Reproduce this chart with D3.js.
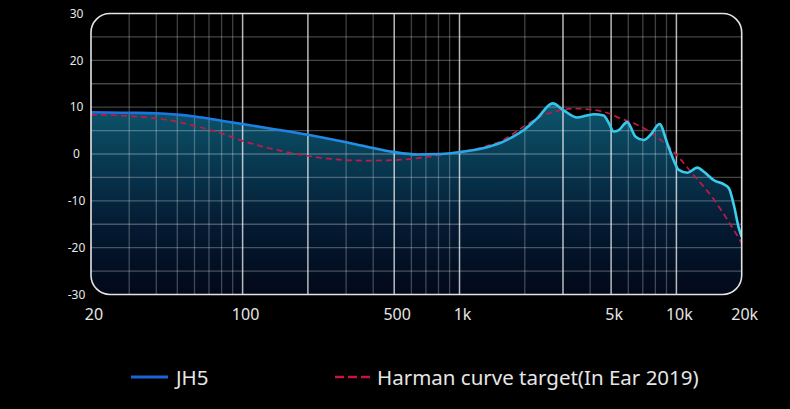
<!DOCTYPE html>
<html>
<head>
<meta charset="utf-8">
<script src="https://cdn.jsdelivr.net/npm/d3@7"></script>
<style>
body { margin: 0; background: #000; }
svg { display: block; }
text { font-family: "Noto Sans", sans-serif; fill: #e6e6e6; }
</style>
</head>
<body>
<div id="chart"></div>
<script>
var width = 790, height = 409;

// measured curve (JH5)
var jh5Freq = [20, 30, 40, 50, 60, 80, 100, 140, 200, 260, 370, 500, 640, 820, 1000, 1250, 1400, 1550, 1750, 2000, 2280, 2690, 3025, 3490, 4160, 4620, 4880, 5140, 5420, 5930, 6480, 7070, 7600, 8360, 9070, 9570, 10260, 11220, 12480, 13390, 14890, 16560, 17460, 18420, 19420, 20000];
var jh5Db   = [8.9, 8.8, 8.7, 8.4, 8.0, 7.1, 6.4, 5.3, 4.1, 3.1, 1.6, 0.4, -0.1, 0.0, 0.4, 1.1, 1.7, 2.4, 3.6, 5.3, 7.6, 10.8, 9.3, 7.8, 8.5, 8.2, 6.6, 4.8, 5.1, 6.8, 3.7, 3.0, 4.1, 6.4, 2.3, -0.6, -3.4, -4.0, -2.9, -3.8, -5.6, -6.5, -7.3, -11.0, -15.9, -17.7];

// target curve
var harmanFreq = [20, 30, 40, 50, 60, 80, 100, 140, 200, 260, 370, 500, 640, 820, 1000, 1250, 1400, 1550, 1750, 2000, 2360, 2820, 3365, 4016, 4790, 5520, 5930, 7330, 8450, 9070, 10200, 12000, 14500, 17160, 20000];
var harmanDb   = [8.4, 8.1, 7.6, 6.9, 6.0, 4.4, 2.8, 1.0, -0.4, -1.1, -1.4, -1.3, -0.9, -0.2, 0.4, 1.3, 2.0, 2.7, 4.2, 6.0, 8.0, 9.2, 9.7, 9.5, 8.8, 7.6, 7.1, 5.1, 3.0, 1.9, -0.6, -4.5, -9.0, -14.0, -19.0];

var xTicks = [20, 100, 500, 1000, 5000, 10000, 20000];
var xTickLabels = ['20', '100', '500', '1k', '5k', '10k', '20k'];
var yTicks = [30, 20, 10, 0, -10, -20, -30];
var majorGridFreq = [100, 200, 500, 1000, 3000, 5000, 10000];
var minorGridFreq = [30, 40, 50, 60, 70, 80, 90, 300, 400, 600, 700, 800, 900, 2000, 4000, 6000, 7000, 8000, 9000];
var hGridDb = [25, 20, 15, 10, 5, 0, -5, -10, -15, -20, -25];
var legendLabels = ['JH5', 'Harman curve target(In Ear 2019)'];

var svg = d3.select('#chart').append('svg').attr('width', width).attr('height', height);
svg.append('rect').attr('width', width).attr('height', height).attr('fill', '#000');

var x = d3.scaleLog().domain([20, 20000]).range([91, 741.7]);
var y = d3.scaleLinear().domain([-30, 30]).range([294.5, 13.5]);

var frame = { x: 91, y: 13.5, w: 650.7, h: 281, r: 19 };

var defs = svg.append('defs');
defs.append('clipPath').attr('id', 'plotClip').append('rect')
    .attr('x', frame.x).attr('y', frame.y).attr('width', frame.w).attr('height', frame.h).attr('rx', frame.r);

var fillGrad = defs.append('linearGradient').attr('id', 'fillGrad')
    .attr('gradientUnits', 'userSpaceOnUse').attr('x1', 0).attr('x2', 0).attr('y1', 100).attr('y2', 295);
fillGrad.append('stop').attr('offset', '0%').attr('stop-color', '#0d586f');
fillGrad.append('stop').attr('offset', '30%').attr('stop-color', '#083b53');
fillGrad.append('stop').attr('offset', '65%').attr('stop-color', '#041a32');
fillGrad.append('stop').attr('offset', '100%').attr('stop-color', '#020818');

var lineGrad = defs.append('linearGradient').attr('id', 'lineGrad')
    .attr('gradientUnits', 'userSpaceOnUse').attr('x1', 91).attr('x2', 741.7).attr('y1', 0).attr('y2', 0);
lineGrad.append('stop').attr('offset', '0%').attr('stop-color', '#1a6ee2');
lineGrad.append('stop').attr('offset', '35%').attr('stop-color', '#1f86e6');
lineGrad.append('stop').attr('offset', '57%').attr('stop-color', '#28a4e8');
lineGrad.append('stop').attr('offset', '70%').attr('stop-color', '#33c4ea');
lineGrad.append('stop').attr('offset', '100%').attr('stop-color', '#3ad0ee');

var plot = svg.append('g').attr('clip-path', 'url(#plotClip)');
plot.append('rect').attr('x', frame.x).attr('y', frame.y).attr('width', frame.w).attr('height', frame.h).attr('fill', '#000');

var jh5 = jh5Freq.map((f, i) => [f, jh5Db[i]]);
var harman = harmanFreq.map((f, i) => [f, harmanDb[i]]);

var curve = d3.curveMonotoneX;

var area = d3.area().x(d => x(d[0])).y0(y(-30)).y1(d => y(d[1])).curve(curve);
plot.append('path').datum(jh5).attr('d', area).attr('fill', 'url(#fillGrad)');

// grid
plot.selectAll('.hgrid').data(hGridDb).enter().append('line')
    .attr('x1', frame.x).attr('x2', frame.x + frame.w)
    .attr('y1', d => y(d)).attr('y2', d => y(d))
    .attr('stroke', 'rgba(255,255,255,0.27)').attr('stroke-width', 1.3);
plot.selectAll('.vminor').data(minorGridFreq).enter().append('line')
    .attr('x1', d => x(d)).attr('x2', d => x(d))
    .attr('y1', frame.y).attr('y2', frame.y + frame.h)
    .attr('stroke', 'rgba(255,255,255,0.25)').attr('stroke-width', 1.3);
plot.selectAll('.vmajor').data(majorGridFreq).enter().append('line')
    .attr('x1', d => x(d)).attr('x2', d => x(d))
    .attr('y1', frame.y).attr('y2', frame.y + frame.h)
    .attr('stroke', 'rgba(255,255,255,0.72)').attr('stroke-width', 1.5);

var line = d3.line().x(d => x(d[0])).y(d => y(d[1])).curve(curve);
plot.append('path').datum(harman).attr('d', line)
    .attr('fill', 'none').attr('stroke', '#c01a47').attr('stroke-width', 1.7).attr('stroke-dasharray', '6,4');
plot.append('path').datum(jh5).attr('d', line)
    .attr('fill', 'none').attr('stroke', 'url(#lineGrad)').attr('stroke-width', 2.6);

// frame
svg.append('rect').attr('x', frame.x).attr('y', frame.y).attr('width', frame.w).attr('height', frame.h).attr('rx', frame.r)
    .attr('fill', 'none').attr('stroke', '#e4e4e4').attr('stroke-width', 1.6);

// axes labels
svg.selectAll('.ylab').data(yTicks).enter().append('text')
    .attr('x', 76.5).attr('y', d => y(d)).attr('dy', '0.35em')
    .attr('text-anchor', 'middle').attr('font-size', 12).text(d => d);
svg.selectAll('.xlab').data(xTicks).enter().append('text')
    .attr('x', d => x(d) + 3).attr('y', 320)
    .attr('text-anchor', 'middle').attr('font-size', 16).text((d, i) => xTickLabels[i]);

// legend
var legend = svg.append('g');
legend.append('line').attr('x1', 131).attr('x2', 168).attr('y1', 377).attr('y2', 377)
    .attr('stroke', '#1a64d8').attr('stroke-width', 3);
legend.append('text').attr('x', 176).attr('y', 384.5).attr('font-size', 20.5).text(legendLabels[0]);
legend.append('line').attr('x1', 335).attr('x2', 373).attr('y1', 377).attr('y2', 377)
    .attr('stroke', '#c8143f').attr('stroke-width', 2.5).attr('stroke-dasharray', '9,4');
legend.append('text').attr('x', 377).attr('y', 384.5).attr('font-size', 20.5).text(legendLabels[1]);
</script>
</body>
</html>
